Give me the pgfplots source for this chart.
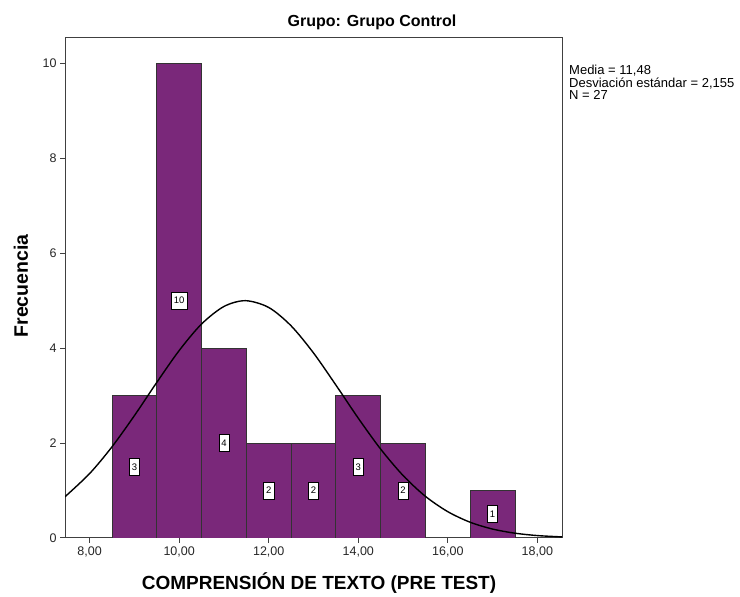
\documentclass[border=0pt]{standalone}
\usepackage{pgfplots}
\pgfplotsset{compat=1.18}
\usepackage{fontspec}
\setmainfont{Liberation Sans}
\definecolor{barpurple}{RGB}{122,40,122}
\definecolor{axgray}{RGB}{64,64,64}
\begin{document}
\begin{tikzpicture}[x=1pt,y=1pt]
\useasboundingbox (0,0) rectangle (740,597);
\begin{axis}[at={(65pt,59pt)}, anchor=south west, scale only axis,
  width=497pt, height=500pt,
  xmin=7.45, xmax=18.55, ymin=0, ymax=10.53,
  xtick={8,10,12,14,16,18},
  xticklabels={{8,00},{10,00},{12,00},{14,00},{16,00},{18,00}},
  ytick={0,2,4,6,8,10},
  tick align=outside, major tick length=5pt,
  xtick pos=bottom, ytick pos=left,
  ticklabel style={font=\fontsize{12.5}{14}\selectfont, text=black!85},
  /pgf/number format/assume math mode=true,
  axis line style={draw=axgray, line width=1pt},
  every tick/.style={axgray, line width=1pt},
  clip=true,
]
\addplot[ybar, bar width=1, fill=barpurple, draw=black!80, line width=0.8pt]
  coordinates {(9,3) (10,10) (11,4) (12,2) (13,2) (14,3) (15,2) (17,1)};
\addplot[smooth, black, line width=1.4pt] coordinates {
(7.45,0.869) (8,1.357) (8.5,1.921) (9,2.577) (9.5,3.277) (10,3.948) (10.5,4.507)
(11,4.876) (11.48,4.998) (12,4.855) (12.5,4.468) (13,3.897) (13.5,3.221)
(14,2.523) (14.5,1.872) (15,1.317) (15.5,0.877) (16,0.554) (16.5,0.331)
(17,0.188) (17.5,0.101) (18,0.051) (18.55,0.023)};
\addplot[only marks, mark=none, nodes near coords, point meta=explicit symbolic,
  nodes near coords style={anchor=center, fill=white, draw=black, line width=0.6pt,
    inner sep=2.5pt, minimum height=17pt, font=\fontsize{9.5}{10}\selectfont}]
  coordinates {(9,1.5)[3] (10,5)[10] (11,2)[4] (12,1)[2] (13,1)[2] (14,1.5)[3] (15,1)[2] (17,0.5)[1]};
\end{axis}
\node[font=\fontsize{16}{18}\selectfont\bfseries] at (372,575) {Grupo: Grupo Control};
\node[font=\fontsize{19}{21}\selectfont\bfseries] at (319,14) {COMPRENSIÓN DE TEXTO (PRE TEST)};
\node[font=\fontsize{19.5}{21}\selectfont\bfseries, rotate=90] at (21,311) {Frecuencia};
\node[anchor=north west, align=left, inner sep=0pt, font=\fontsize{13}{12.5}\selectfont] at (569,532)
  {Media = 11,48\\Desviación estándar = 2,155\\N = 27};
\end{tikzpicture}
\end{document}
